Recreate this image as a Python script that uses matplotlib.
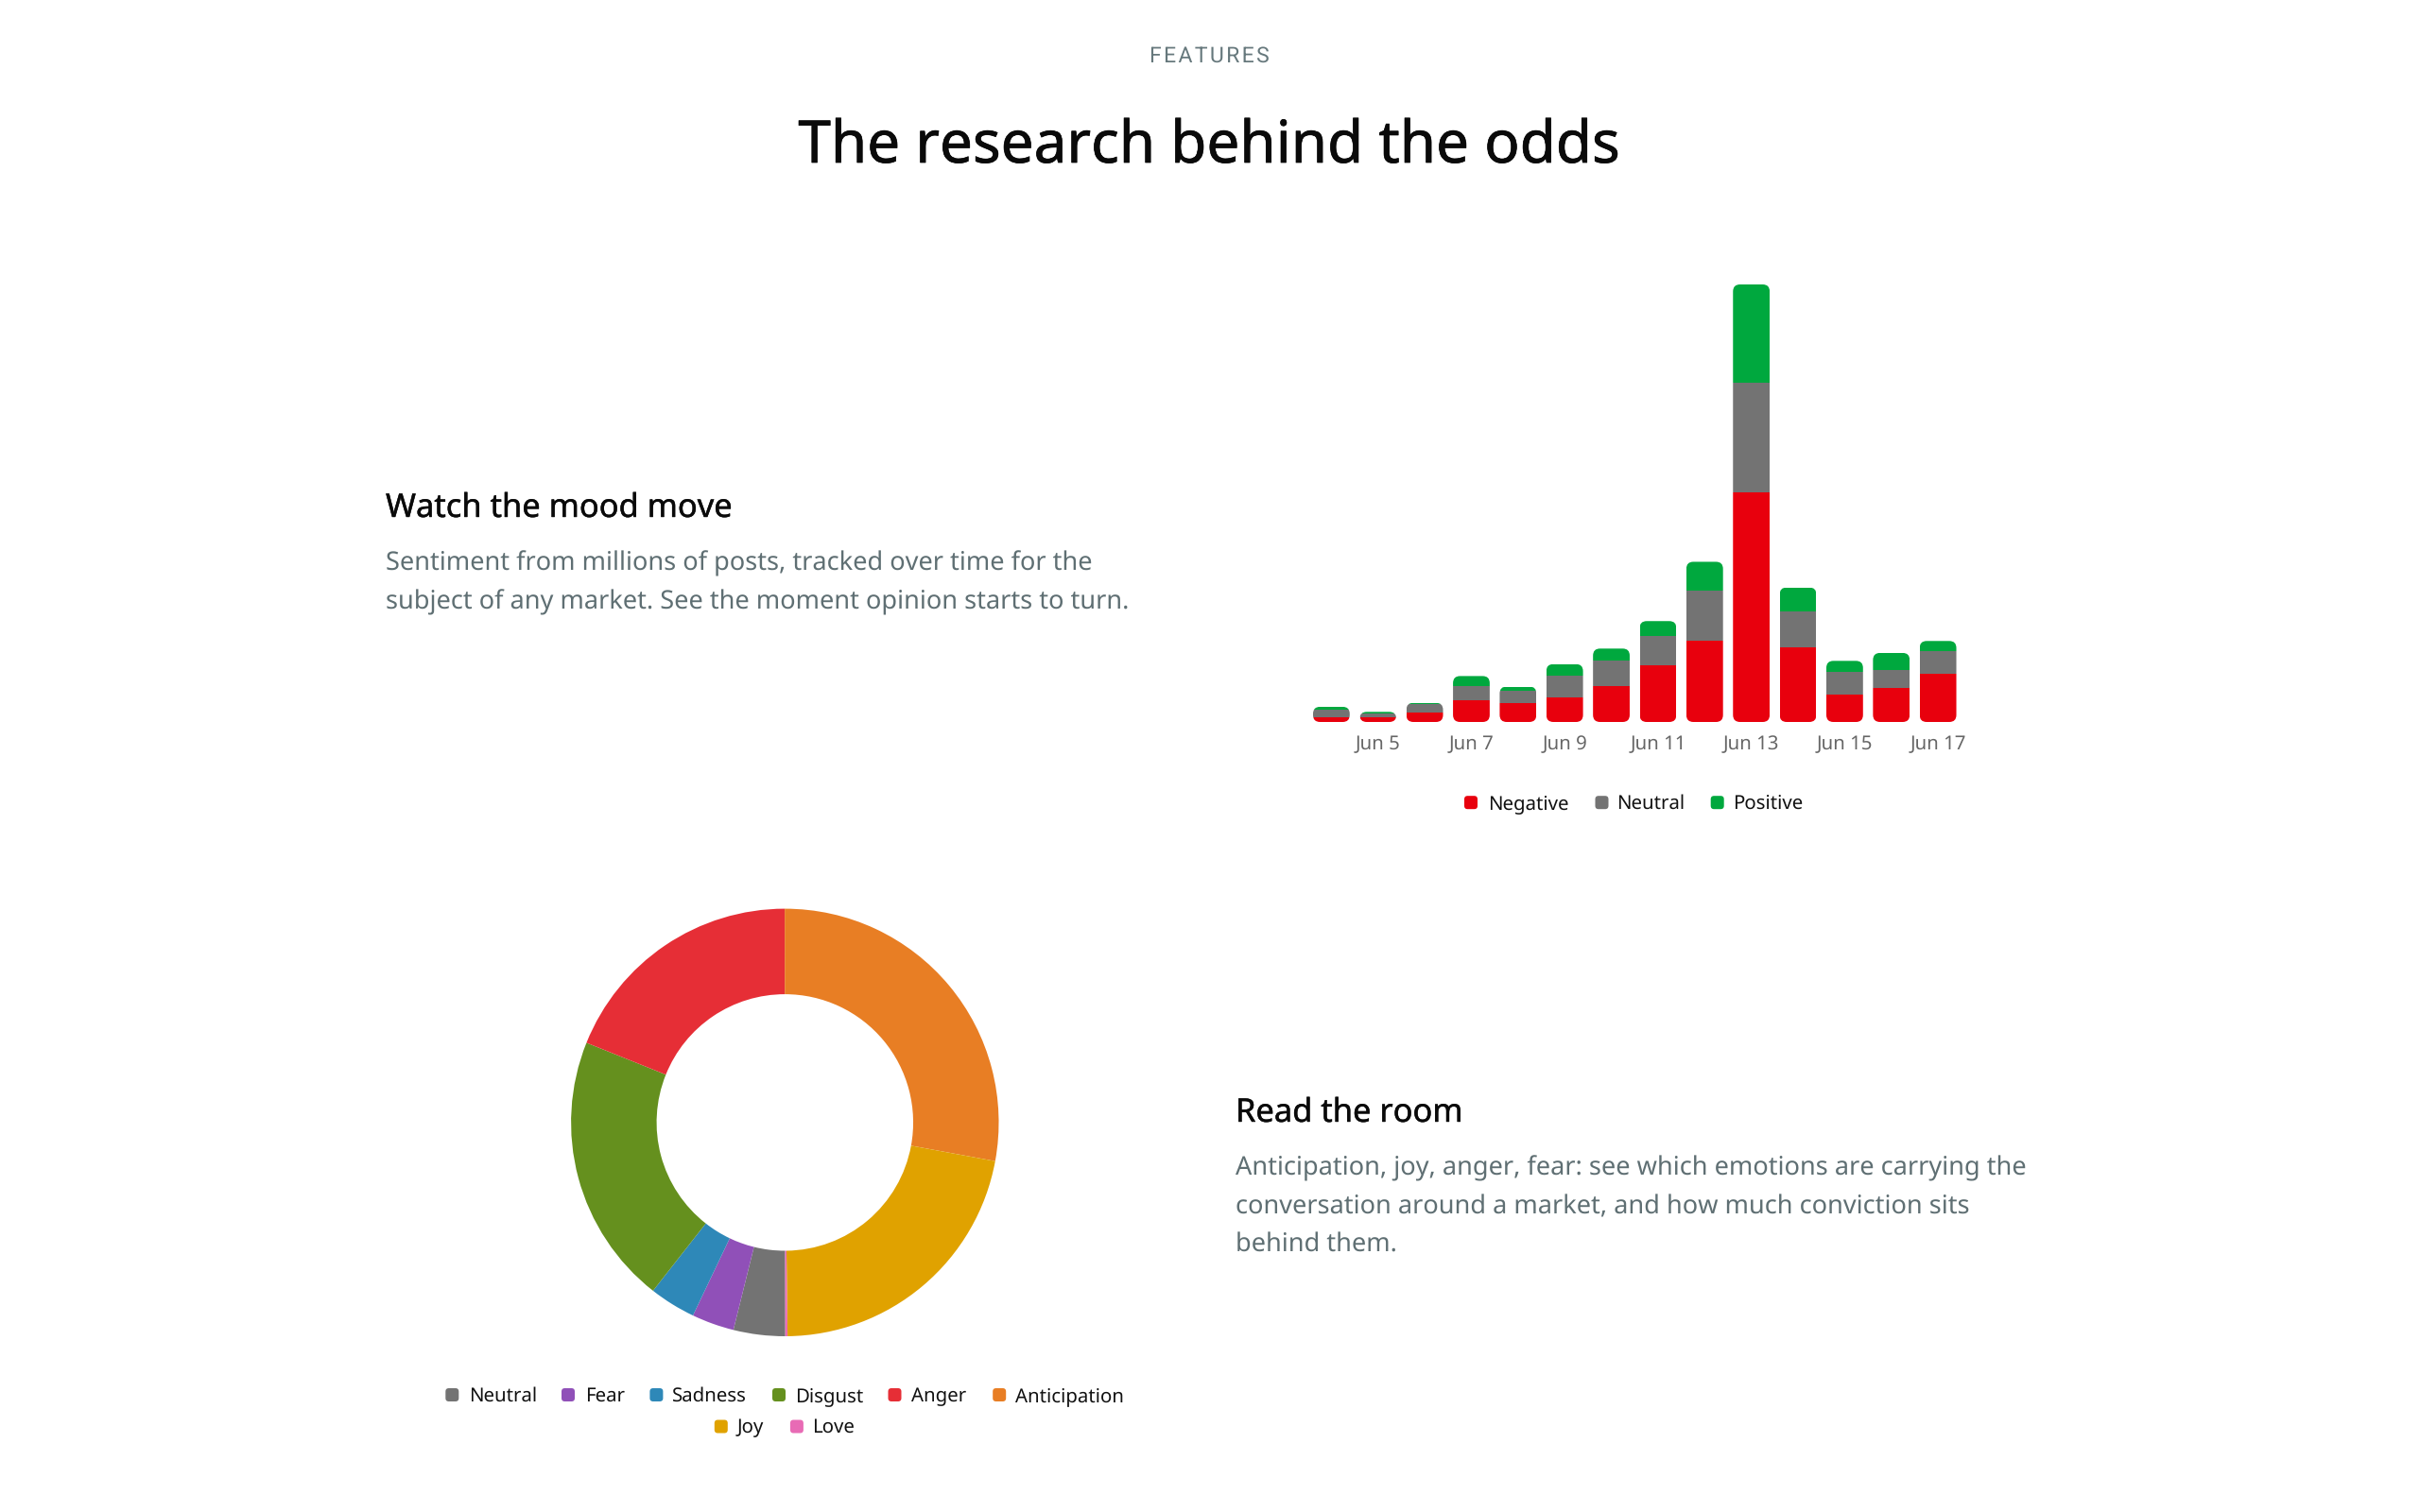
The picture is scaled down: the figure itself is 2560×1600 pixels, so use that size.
import numpy as np
import matplotlib
matplotlib.use("Agg")
import matplotlib.pyplot as plt
import matplotlib.patheffects as pe
from matplotlib.patches import FancyBboxPatch

plt.rcParams['font.family'] = ['Noto Sans', 'DejaVu Sans']
plt.rcParams['text.hinting'] = 'no_hinting'
plt.rcParams['text.hinting_factor'] = 1

# sentiment per day (stacked bars)
days = ["Jun 4", "Jun 5", "Jun 6", "Jun 7", "Jun 8", "Jun 9", "Jun 10",
        "Jun 11", "Jun 12", "Jun 13", "Jun 14", "Jun 15", "Jun 16", "Jun 17"]
negative = [14, 13, 27, 59, 51, 68, 100, 156, 224, 635, 207, 76, 93, 134]
neutral = [19, 11, 22, 41, 34, 59, 69, 81, 138, 303, 99, 62, 51, 62]
positive = [9, 4, 4, 27, 13, 33, 34, 42, 81, 272, 66, 31, 47, 28]
sent_labels = ["Negative", "Neutral", "Positive"]
sent_colors = ["#E8000D", "#737373", "#00A83E"]

# emotions (doughnut), percent
emotions = ["Neutral", "Fear", "Sadness", "Disgust", "Anger", "Anticipation", "Joy", "Love"]
shares = [3.9, 3.2, 3.5, 20.5, 18.9, 27.9, 21.9, 0.17]
emo_colors = ["#737373", "#9050B8", "#2E88B8", "#65901E", "#E62E36", "#E87E24", "#E0A200", "#E86BB5"]

W, H = 2560, 1600
BODY = "#5F6F73"
BODY_PT = 19.55
LEGEND_PT = 14.7
fig = plt.figure(figsize=(W / 100, H / 100), dpi=100, facecolor="white")


def px_axes(left, top, right, bottom):
    return fig.add_axes([left / W, 1 - bottom / H, (right - left) / W, (bottom - top) / H])


# overlay in pixel coords for the page text and legends
page = px_axes(0, 0, W, H)
page.set_xlim(0, W)
page.set_ylim(H, 0)
page.axis("off")


def swatch(x, y, color):
    page.add_patch(FancyBboxPatch((x, y - 7), 14, 14, boxstyle="round,pad=0,rounding_size=3.5",
                                  fc=color, ec="none"))


def medium(width):
    # Noto Sans only comes in regular/bold here, thicken a little
    return [pe.withStroke(linewidth=width, foreground="#0A0A0A")]


page.text(1279, 66, "F\u200aE\u200aA\u200aT\u200aU\u200aR\u200aE\u200aS", ha="center", va="baseline",
          fontsize=16.6, color="#66787C", family=["Roboto", "DejaVu Sans"])
page.text(1279, 172, "The research behind the odds", ha="center", va="baseline",
          fontsize=44.66, color="#0A0A0A", path_effects=medium(0.5))

page.text(408, 547, "Watch the mood move", va="baseline", fontsize=24.8, color="#0A0A0A",
          path_effects=medium(0.3))
page.text(408, 603, "Sentiment from millions of posts, tracked over time for the",
          va="baseline", fontsize=BODY_PT, color=BODY)
page.text(408, 644, "subject of any market. See the moment opinion starts to turn.",
          va="baseline", fontsize=BODY_PT, color=BODY)

page.text(1307, 1187, "Read the room", va="baseline", fontsize=24.8, color="#0A0A0A",
          path_effects=medium(0.3))
page.text(1307, 1243, "Anticipation, joy, anger, fear: see which emotions are carrying the",
          va="baseline", fontsize=BODY_PT, color=BODY)
page.text(1307, 1284, "conversation around a market, and how much conviction sits",
          va="baseline", fontsize=BODY_PT, color=BODY)
page.text(1307, 1325, "behind them.", va="baseline", fontsize=BODY_PT, color=BODY)

# stacked bars
ax = px_axes(1383.7, 301, 2074.8, 764)
x = np.arange(len(days))
total = np.array(negative) + np.array(neutral) + np.array(positive)
ax.set_xlim(-0.5, len(days) - 0.5)
ax.set_ylim(0, total.max())
for s in ax.spines.values():
    s.set_visible(False)
ax.set_yticks([])
ax.set_xticks(x[1::2])
ax.set_xticklabels(days[1::2], fontsize=LEGEND_PT, color="#666666")
ax.tick_params(axis="x", length=0, pad=10)

bar_w = 0.786
y_per_x = (total.max() / 463) * 49.36
bottom = np.zeros(len(days))
stacks = []
for vals, color in zip([negative, neutral, positive], sent_colors):
    stacks.append(ax.bar(x, vals, bar_w, bottom=bottom, color=color, linewidth=0))
    bottom = bottom + np.array(vals)

# rounded ends of every stack
for i, t in enumerate(total):
    clip = FancyBboxPatch((x[i] - bar_w / 2, 0), bar_w, t, boxstyle="round,pad=0,rounding_size=0.15",
                          mutation_aspect=y_per_x, transform=ax.transData, fc="none", ec="none")
    ax.add_patch(clip)
    for st in stacks:
        st[i].set_clip_path(clip)

for xs, xt, lab, col in zip([1549, 1687.5, 1809.7], [1574.5, 1710.5, 1833.5], sent_labels, sent_colors):
    swatch(xs, 849.2, col)
    page.text(xt, 856, lab, va="baseline", fontsize=LEGEND_PT, color="#111111")

# doughnut
cx, cy, r = 830.3, 1187.8, 226.2
ax2 = px_axes(cx - r, cy - r, cx + r, cy + r)
ax2.pie(shares, colors=emo_colors, startangle=-89.9, counterclock=False, radius=1,
        wedgeprops=dict(width=0.4, linewidth=0))
ax2.set_xlim(-1, 1)
ax2.set_ylim(-1, 1)
for w in ax2.patches:
    w.set_clip_on(False)

emo_sw = [471.3, 594, 687.4, 817, 939.5, 1050.2, 755.8, 835.9]
emo_tx = [495.6, 618.6, 710.9, 841.5, 964.5, 1074.2, 779.3, 859.4]
emo_y = [1476] * 6 + [1509.5] * 2
for xs, xt, yy, lab, col in zip(emo_sw, emo_tx, emo_y, emotions, emo_colors):
    swatch(xs, yy, col)
    page.text(xt, yy + 6.7, lab, va="baseline", fontsize=LEGEND_PT, color="#111111")

fig.savefig("out.png", dpi=100)
